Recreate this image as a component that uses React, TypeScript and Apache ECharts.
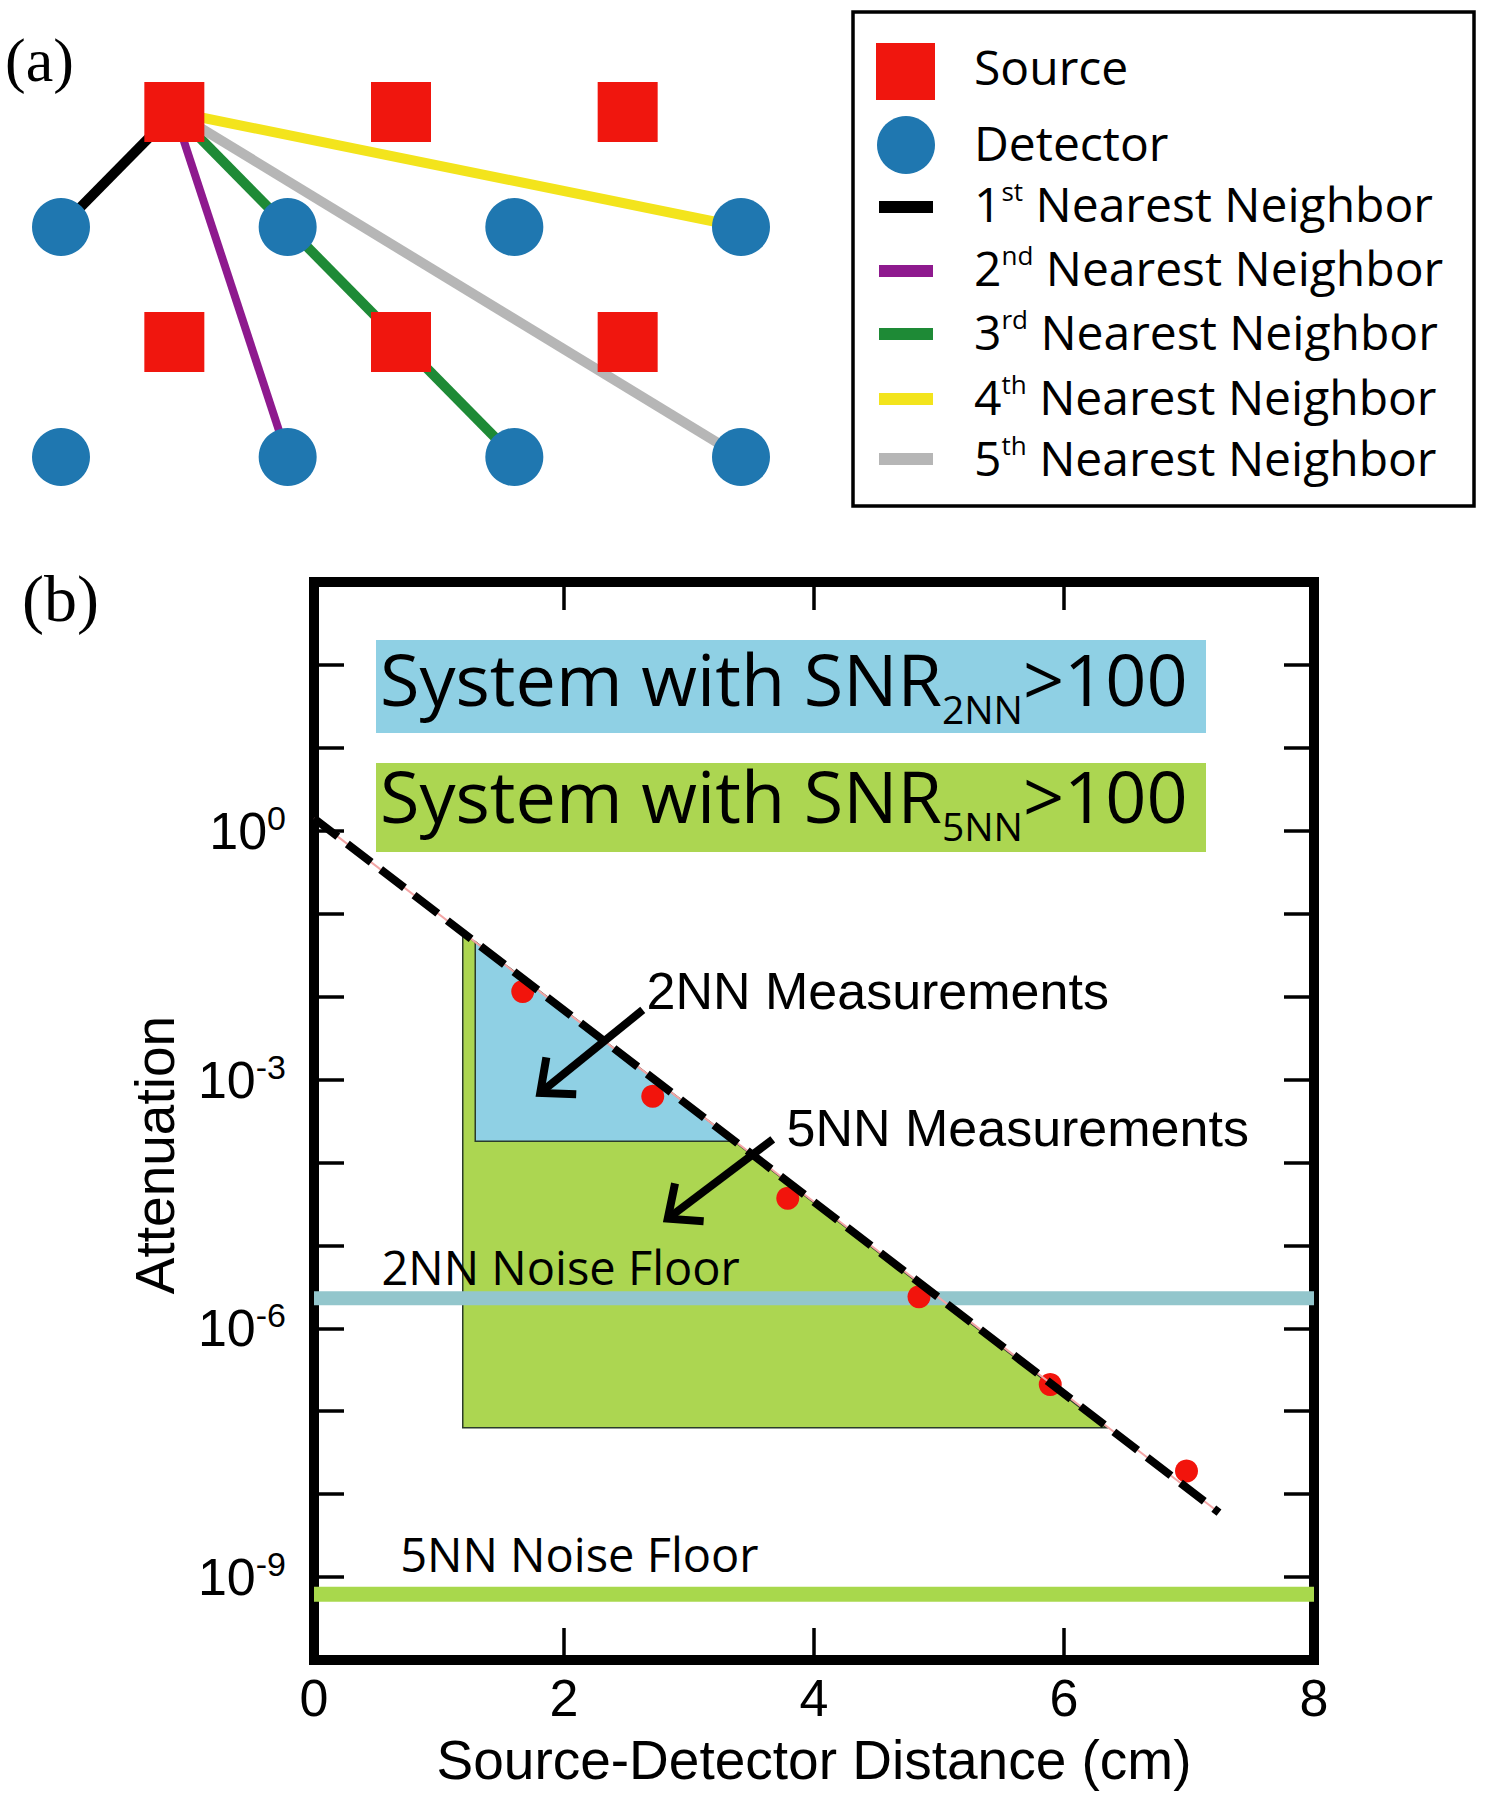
import React, { useEffect, useRef } from 'react';
import * as echarts from 'echarts';

// ---------- Panel (a): optode layout (grid units) ----------
const sourcePositions = [[0.5, 0], [1.5, 0], [2.5, 0], [0.5, 1], [1.5, 1], [2.5, 1]];
const detectorPositions = [[0, 0.5], [1, 0.5], [2, 0.5], [3, 0.5], [0, 1.5], [1, 1.5], [2, 1.5], [3, 1.5]];
const neighborOrigin = [0.5, 0];
const neighborTargets = [[0, 0.5], [1, 1.5], [2, 1.5], [3, 0.5], [3, 1.5]];
const neighborOrdinals = [['1', 'st'], ['2', 'nd'], ['3', 'rd'], ['4', 'th'], ['5', 'th']];
const neighborLabel = 'Nearest Neighbor';
const legendBasic = ['Source', 'Detector'];

// ---------- Panel (b): attenuation vs distance ----------
const distanceTicks = [0, 2, 4, 6, 8];
const labeledExponents = [0, -3, -6, -9];
const measDistance = [1.67, 2.71, 3.79, 4.84, 5.89, 6.98];
const measAttenuation = [1.15e-2, 6.3e-4, 3.7e-5, 2.4e-6, 2.1e-7, 1.9e-8];
const fitDistance = [0, 7.24];
const fitAttenuation = [1.41, 6.0e-9];
const snr5Region = [[1.19, 5.9e-2], [6.34, 6.3e-8], [1.19, 6.3e-8]];
const snr2Region = [[1.29, 4.6e-2], [3.37, 1.8e-4], [1.29, 1.8e-4]];
const noiseFloor2NN = 2.3e-6;
const noiseFloor5NN = 6.2e-10;
const arrowSegments = [
  [2.63, 6.9e-3, 1.81, 6.9e-4],
  [3.67, 1.9e-4, 2.83, 2.1e-5],
];
const annotations = [
  { text: '2NN Measurements', x: 2.66, y: 1.17e-2, kind: 'meas' },
  { text: '5NN Measurements', x: 3.78, y: 2.6e-4, kind: 'meas' },
  { text: '2NN Noise Floor', x: 0.54, y: 5.5e-6, kind: 'floor' },
  { text: '5NN Noise Floor', x: 0.69, y: 1.9e-9, kind: 'floor' },
];

const SRC = '#f0160e';
const DET = '#1f77b0';
const NB_COLORS = ['#000000', '#8e1a8e', '#1e8a36', '#f3e41c', '#b6b6b6'];
const NB_WIDTHS = [10, 8, 10, 10, 10];
const BLUE = '#8fd0e4';
const GREEN = '#acd651';
const FLOOR2 = '#93c6cc';
const FLOOR5 = '#a8d84c';

const AX_FONT = '"Liberation Sans", Arial, sans-serif';
const HUM_FONT = '"Open Sans", "Noto Sans", sans-serif';
const SERIF = '"Liberation Serif", "Times New Roman", serif';

function buildOption() {
  const axisLine = { show: true, onZero: false, lineStyle: { color: '#000', width: 10, cap: 'square' } };
  const tickStyle = { color: '#000', width: 3.5 };

  const legendRowsY = [207, 271, 334, 399, 459];
  const legendTextY = [203, 267, 331, 396, 457];

  const graphic: any[] = [
    { type: 'text', x: 5, y: 60, style: { text: '(a)', fontFamily: SERIF, fontSize: 62, lineHeight: 64, fill: '#000', verticalAlign: 'middle' } },
    { type: 'text', x: 22, y: 598, style: { text: '(b)', fontFamily: SERIF, fontSize: 66, lineHeight: 68, fill: '#000', verticalAlign: 'middle' } },
    // legend box
    { type: 'rect', shape: { x: 853, y: 12, width: 621, height: 494 }, style: { fill: '#fff', stroke: '#000', lineWidth: 3.5 } },
    { type: 'rect', shape: { x: 876, y: 43, width: 59, height: 57 }, style: { fill: SRC } },
    { type: 'circle', shape: { cx: 906, cy: 145, r: 29 }, style: { fill: DET } },
    { type: 'text', x: 974, y: 66, style: { text: legendBasic[0], fontFamily: HUM_FONT, fontSize: 48, lineHeight: 50, fill: '#000', verticalAlign: 'middle' } },
    { type: 'text', x: 974, y: 142, style: { text: legendBasic[1], fontFamily: HUM_FONT, fontSize: 48, lineHeight: 50, fill: '#000', verticalAlign: 'middle' } },
  ];
  neighborOrdinals.forEach((o, i) => {
    graphic.push({ type: 'rect', shape: { x: 879, y: legendRowsY[i] - 6, width: 54, height: 12 }, style: { fill: NB_COLORS[i] } });
    graphic.push({
      type: 'text', x: 974, y: legendTextY[i],
      style: {
        text: `{n|${o[0]}}{s|${o[1]}}{n| ${neighborLabel}}`,
        fill: '#000', verticalAlign: 'middle',
        rich: {
          n: { fontFamily: HUM_FONT, fontSize: 48, lineHeight: 50, fill: '#000' },
          s: { fontFamily: HUM_FONT, fontSize: 26, lineHeight: 32, verticalAlign: 'top', fill: '#000' },
        },
      },
    });
  });
  // SNR boxes
  const boxes = [
    { y: 640, h: 93, fill: BLUE, sub: '2NN', ty: 678 },
    { y: 763, h: 89, fill: GREEN, sub: '5NN', ty: 795 },
  ];
  boxes.forEach((b) => {
    graphic.push({ type: 'rect', shape: { x: 376, y: b.y, width: 830, height: b.h }, style: { fill: b.fill } });
    graphic.push({
      type: 'text', x: 380, y: b.ty,
      style: {
        text: `{m|System with SNR}{u|${b.sub}}{m|>100}`,
        fill: '#000', verticalAlign: 'middle',
        rich: {
          m: { fontFamily: HUM_FONT, fontSize: 72, lineHeight: 100, fill: '#000' },
          u: { fontFamily: HUM_FONT, fontSize: 39, lineHeight: 18, verticalAlign: 'bottom', fill: '#000' },
        },
      },
    });
  });

  const series: any[] = [];
  // Panel (a)
  neighborTargets.forEach((t, i) => {
    series.push({
      type: 'line', xAxisIndex: 2, yAxisIndex: 2, data: [neighborOrigin, t],
      showSymbol: false, symbol: 'none', clip: false, z: 2,
      lineStyle: { color: NB_COLORS[i], width: NB_WIDTHS[i] },
    });
  });
  series.push({
    type: 'scatter', xAxisIndex: 2, yAxisIndex: 2, data: sourcePositions, symbol: 'rect', symbolSize: 60,
    itemStyle: { color: SRC, opacity: 1 }, z: 5, clip: false,
  });
  series.push({
    type: 'scatter', xAxisIndex: 2, yAxisIndex: 2, data: detectorPositions, symbol: 'circle', symbolSize: 58,
    itemStyle: { color: DET, opacity: 1 }, z: 5, clip: false,
  });

  // Panel (b)
  const regionSeries = (region: number[][], fill: string, z: number) => ({
    type: 'custom', xAxisIndex: 0, yAxisIndex: 0, z, data: [region[0]],
    renderItem: (_p: any, api: any) => ({
      type: 'polygon',
      shape: { points: region.map((pt) => api.coord(pt)) },
      style: { fill, stroke: '#2b3b2b', lineWidth: 1.5 },
    }),
  });
  series.push(regionSeries(snr5Region, GREEN, 1));
  series.push(regionSeries(snr2Region, BLUE, 2));
  series.push({
    type: 'line', xAxisIndex: 0, yAxisIndex: 0, z: 3, symbol: 'none',
    data: [[0, noiseFloor2NN], [8, noiseFloor2NN]], lineStyle: { color: FLOOR2, width: 14 },
  });
  series.push({
    type: 'line', xAxisIndex: 0, yAxisIndex: 0, z: 3, symbol: 'none',
    data: [[0, noiseFloor5NN], [8, noiseFloor5NN]], lineStyle: { color: FLOOR5, width: 15 },
  });
  series.push({
    type: 'scatter', xAxisIndex: 0, yAxisIndex: 0, z: 4, symbolSize: 23,
    data: measDistance.map((d, i) => [d, measAttenuation[i]]), itemStyle: { color: '#f2140c', opacity: 1 },
  });
  const fitData = fitDistance.map((d, i) => [d, fitAttenuation[i]]);
  series.push({
    type: 'line', xAxisIndex: 0, yAxisIndex: 0, z: 5, symbol: 'none', data: fitData,
    lineStyle: { color: '#f3a6a6', width: 2 },
  });
  series.push({
    type: 'line', xAxisIndex: 0, yAxisIndex: 0, z: 6, symbol: 'none', data: fitData,
    lineStyle: { color: '#000', width: 8, type: [30, 12] },
  });
  series.push({
    type: 'custom', xAxisIndex: 0, yAxisIndex: 0, z: 7,
    data: arrowSegments.map((a) => [a[0], a[1], a[2], a[3]]),
    encode: { x: [0, 2], y: [1, 3] },
    renderItem: (params: any, api: any) => {
      const a = arrowSegments[params.dataIndex];
      const p0 = api.coord([a[0], a[1]]);
      const p1 = api.coord([a[2], a[3]]);
      const ang = Math.atan2(p0[1] - p1[1], p0[0] - p1[0]);
      const L = 36, sp = 0.72;
      const h1 = [p1[0] + L * Math.cos(ang + sp), p1[1] + L * Math.sin(ang + sp)];
      const h2 = [p1[0] + L * Math.cos(ang - sp), p1[1] + L * Math.sin(ang - sp)];
      return {
        type: 'group',
        children: [
          { type: 'line', shape: { x1: p0[0], y1: p0[1], x2: p1[0], y2: p1[1] }, style: { stroke: '#000', lineWidth: 8 } },
          { type: 'polyline', shape: { points: [h1, p1, h2] }, style: { stroke: '#000', lineWidth: 8, fill: null, lineJoin: 'miter' } },
        ],
      };
    },
  });
  series.push({
    type: 'custom', xAxisIndex: 0, yAxisIndex: 0, z: 8,
    data: annotations.map((a) => [a.x, a.y]),
    renderItem: (params: any, api: any) => {
      const a = annotations[params.dataIndex];
      const p = api.coord([a.x, a.y]);
      const meas = a.kind === 'meas';
      return {
        type: 'text', x: p[0], y: p[1],
        style: {
          text: a.text, fill: '#000', align: 'left', verticalAlign: 'middle',
          fontFamily: meas ? AX_FONT : HUM_FONT, fontSize: meas ? 52 : 47,
        },
      };
    },
  });

  const yLabelFmt = (v: number) => {
    const e = Math.round(Math.log10(v));
    if (labeledExponents.indexOf(e) < 0) return '';
    return `{b|10}{s|${e}}`;
  };

  return {
    animation: false,
    backgroundColor: '#ffffff',
    graphic,
    grid: [
      { left: 314, top: 582, width: 1000, height: 1078, outerBoundsMode: 'none' },
      { left: 61, top: 112, width: 680, height: 345, outerBoundsMode: 'none' },
    ],
    xAxis: [
      {
        type: 'value', gridIndex: 0, position: 'bottom', min: 0, max: 8, interval: 2,
        axisLine, splitLine: { show: false },
        axisTick: { show: true, inside: true, length: 32, lineStyle: tickStyle },
        axisLabel: {
          show: true, margin: 12, color: '#000', fontFamily: AX_FONT, fontSize: 52,
          formatter: (v: number) => (distanceTicks.indexOf(v) >= 0 ? String(v) : ''),
        },
        name: 'Source-Detector Distance (cm)', nameLocation: 'middle', nameGap: 72,
        nameTextStyle: { color: '#000', fontFamily: AX_FONT, fontSize: 55 },
      },
      {
        type: 'value', gridIndex: 0, position: 'top', min: 0, max: 8, interval: 2,
        axisLine, splitLine: { show: false },
        axisTick: { show: true, inside: true, length: 28, lineStyle: tickStyle },
        axisLabel: { show: false },
      },
      { type: 'value', gridIndex: 1, min: 0, max: 3, show: false },
    ],
    yAxis: [
      {
        type: 'log', logBase: 10, gridIndex: 0, position: 'left', min: 1e-10, max: 1e3, interval: 1,
        axisLine, splitLine: { show: false }, minorTick: { show: false },
        axisTick: { show: true, inside: true, length: 30, lineStyle: tickStyle },
        axisLabel: {
          show: true, margin: 28, color: '#000', formatter: yLabelFmt,
          rich: {
            b: { fontFamily: AX_FONT, fontSize: 52, lineHeight: 60, color: '#000' },
            s: { fontFamily: AX_FONT, fontSize: 34, lineHeight: 24, verticalAlign: 'top', color: '#000' },
          },
        },
        name: 'Attenuation', nameLocation: 'middle', nameGap: 132,
        nameTextStyle: { color: '#000', fontFamily: AX_FONT, fontSize: 55, padding: [0, 68, 0, 0] },
      },
      {
        type: 'log', logBase: 10, gridIndex: 0, position: 'right', min: 1e-10, max: 1e3, interval: 1,
        axisLine, splitLine: { show: false }, minorTick: { show: false },
        axisTick: { show: true, inside: true, length: 30, lineStyle: tickStyle },
        axisLabel: { show: false },
      },
      { type: 'value', gridIndex: 1, min: 0, max: 1.5, inverse: true, show: false },
    ],
    series,
  };
}

export default function App() {
  const ref = useRef<HTMLDivElement>(null);
  useEffect(() => {
    if (!ref.current) return;
    const chart = echarts.init(ref.current, null, { renderer: 'svg' });
    chart.setOption(buildOption() as any);
    return () => chart.dispose();
  }, []);
  return (
    <div
      ref={ref}
      style={{ position: 'absolute', left: 0, top: 0, width: '1488px', height: '1800px', background: '#fff' }}
    />
  );
}
